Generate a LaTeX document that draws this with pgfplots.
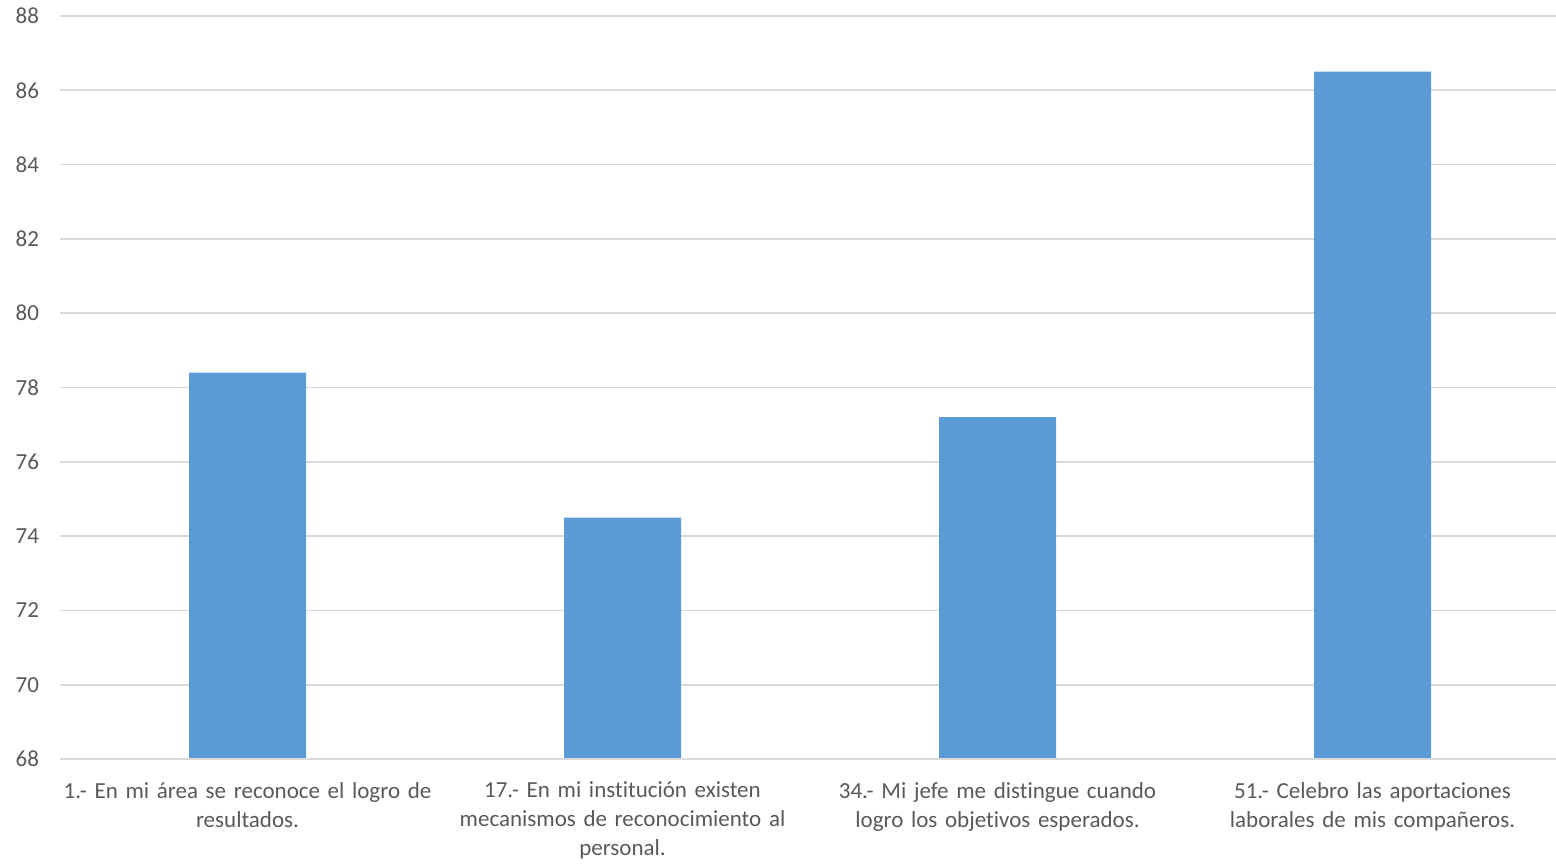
\documentclass[border=0pt]{standalone}
\usepackage{pgfplots}
\pgfplotsset{compat=1.18}
\usepackage{fontspec}
\setmainfont{Carlito}[Ligatures=NoCommon]
\definecolor{txt}{HTML}{595959}
\definecolor{gridc}{HTML}{D9D9D9}
\definecolor{bar}{HTML}{5B9BD5}
\begin{document}
\begin{tikzpicture}
\begin{axis}[
  at={(0,0)}, anchor=south west,
  scale only axis,
  width=750pt, height=371.5pt,
  xmin=-0.5, xmax=3.5,
  ymin=68, ymax=88,
  ytick={68,70,...,88},
  xtick={0,1,2,3},
  xticklabels={
    {1.- En mi área se reconoce el logro de\\resultados.},
    {17.- En mi institución existen\\mecanismos de reconocimiento al\\personal.},
    {34.- Mi jefe me distingue cuando\\logro los objetivos esperados.},
    {51.- Celebro las aportaciones\\laborales de mis compañeros.}},
  axis line style={draw=none},
  axis x line*=bottom,
  major tick length=0pt,
  ymajorgrids,
  grid style={gridc, line width=0.9pt},
  tick label style={font=\fontsize{11.5}{14.5}\selectfont, text=txt},
  xticklabel style={align=center, text width=200pt, yshift=-8pt},
  yticklabel style={xshift=-7pt},
  /pgf/number format/assume math mode=true,
  clip=false,
]
\addplot[ybar, bar width=58.5pt, fill=bar, draw=none, bar shift=0pt] coordinates {(0,78.4) (1,74.5) (2,77.2) (3,86.5)};
\draw[gridc, line width=0.9pt] (axis cs:-0.5,68) -- (axis cs:3.5,68);
\end{axis}
\pgfresetboundingbox
\path[use as bounding box] (-30pt,-52pt) rectangle (748pt,379.5pt);
\end{tikzpicture}
\end{document}
